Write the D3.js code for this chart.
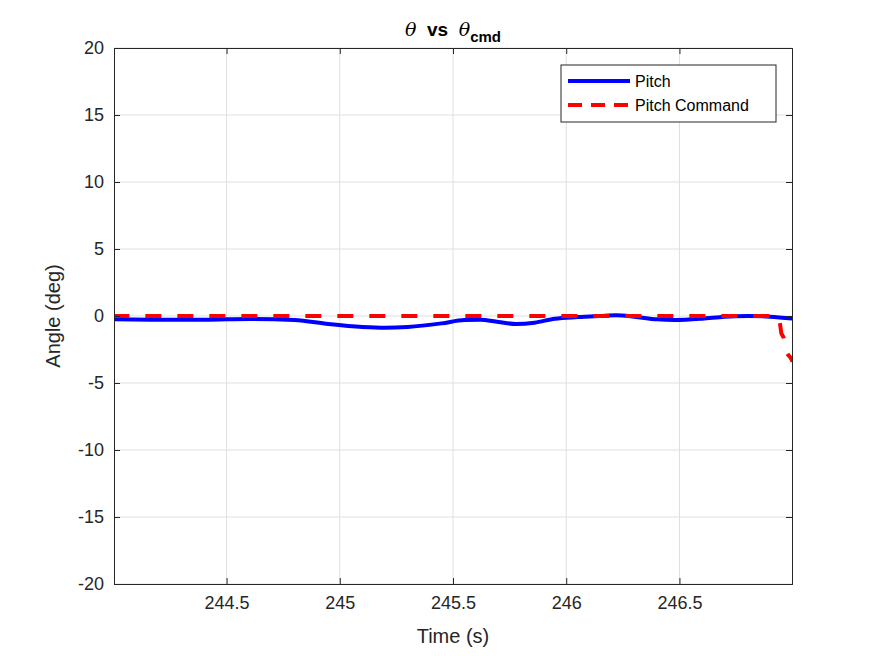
<!DOCTYPE html>
<html>
<head>
<meta charset="utf-8">
<script src="https://cdn.jsdelivr.net/npm/d3@7"></script>
<style>
body { margin: 0; background: #fff; }
text { font-family: Arial, "Liberation Sans", sans-serif; }
</style>
</head>
<body>
<svg id="chart" width="875" height="656"></svg>
<script>
// values
var pitchT = [244.0, 244.2, 244.4, 244.6, 244.8, 244.95, 245.1, 245.2, 245.3, 245.45, 245.55, 245.62, 245.7, 245.78, 245.86, 245.95, 246.05, 246.15, 246.22, 246.3, 246.4, 246.48, 246.6, 246.7, 246.8, 246.9, 247.0];
var pitchV = [-0.25, -0.28, -0.28, -0.22, -0.3, -0.6, -0.82, -0.88, -0.82, -0.55, -0.3, -0.28, -0.45, -0.6, -0.5, -0.2, -0.08, 0.0, 0.05, -0.05, -0.25, -0.3, -0.2, -0.05, 0.0, -0.05, -0.2];
var cmdT = [244.0, 246.93, 246.94, 246.95, 246.96, 246.97, 246.98, 246.99, 247.0];
var cmdV = [0, 0, -0.1, -1.3, -1.6, -2.6, -2.9, -3.1, -3.4];
var xTicks = [244.5, 245, 245.5, 246, 246.5];
var yTicks = [-20, -15, -10, -5, 0, 5, 10, 15, 20];

var svg = d3.select("#chart");
var L = 114, R = 792, T = 48, B = 584;
var x = d3.scaleLinear().domain([244.003, 246.997]).range([L, R]);
var y = d3.scaleLinear().domain([-20, 20]).range([B, T]);

svg.append("rect").attr("x", L).attr("y", T).attr("width", R - L).attr("height", B - T).attr("fill", "#fff");

// grid
svg.append("g").selectAll("line").data(xTicks).join("line")
  .attr("x1", d => x(d)).attr("x2", d => x(d)).attr("y1", T).attr("y2", B)
  .attr("stroke", "#dfdfdf");
svg.append("g").selectAll("line").data(yTicks).join("line")
  .attr("y1", d => y(d)).attr("y2", d => y(d)).attr("x1", L).attr("x2", R)
  .attr("stroke", "#dfdfdf");

svg.append("clipPath").attr("id", "clip").append("rect")
  .attr("x", L).attr("y", T).attr("width", R - L).attr("height", B - T);

var line = d3.line().curve(d3.curveMonotoneX);
svg.append("path").attr("clip-path", "url(#clip)")
  .attr("d", line(pitchT.map((t, i) => [x(t), y(pitchV[i])])))
  .attr("fill", "none").attr("stroke", "#0000ff").attr("stroke-width", 4);
svg.append("path").attr("clip-path", "url(#clip)")
  .attr("d", d3.line()(cmdT.map((t, i) => [x(t), y(cmdV[i])])))
  .attr("fill", "none").attr("stroke", "#ff0000").attr("stroke-width", 4)
  .attr("stroke-dasharray", "16,16");

// axes
svg.append("g").attr("transform", "translate(0," + B + ")")
  .call(d3.axisBottom(x).tickValues(xTicks).tickFormat(d => String(d)).tickSize(-6).tickPadding(12));
svg.append("g").attr("transform", "translate(" + L + ",0)")
  .call(d3.axisLeft(y).tickValues(yTicks).tickFormat(d => String(d)).tickSize(-6).tickPadding(10));
svg.append("g").attr("transform", "translate(0," + T + ")")
  .call(d3.axisTop(x).tickValues(xTicks).tickSize(-6).tickFormat(""));
svg.append("g").attr("transform", "translate(" + R + ",0)")
  .call(d3.axisRight(y).tickValues(yTicks).tickSize(-6).tickFormat(""));
svg.selectAll(".domain, .tick line").attr("stroke", "#262626");
svg.selectAll(".tick text").attr("font-size", 18).attr("fill", "#262626")
  .attr("font-family", "Arial, 'Liberation Sans', sans-serif");

svg.append("text").attr("x", (L + R) / 2).attr("y", 643).attr("text-anchor", "middle")
  .attr("font-size", 20).attr("fill", "#262626").text("Time (s)");
svg.append("text").attr("transform", "translate(60," + ((T + B) / 2) + ") rotate(-90)")
  .attr("text-anchor", "middle").attr("font-size", 20).attr("fill", "#262626").text("Angle (deg)");

// title
var tt = svg.append("text").attr("x", (L + R) / 2).attr("y", 36).attr("text-anchor", "middle")
  .attr("font-size", 19).attr("font-weight", "bold").attr("fill", "#000")
  .style("white-space", "pre");
tt.append("tspan").attr("font-family", "'DejaVu Serif', serif").attr("font-style", "italic").attr("font-weight", "normal").text("θ");
tt.append("tspan").text("\u00a0\u00a0vs\u00a0\u00a0");
tt.append("tspan").attr("font-family", "'DejaVu Serif', serif").attr("font-style", "italic").attr("font-weight", "normal").text("θ");
tt.append("tspan").attr("dy", 6).attr("font-size", 15).text("cmd");

// legend
var lg = svg.append("g").attr("transform", "translate(561,65)");
lg.append("rect").attr("width", 215).attr("height", 57).attr("fill", "#fff").attr("stroke", "#262626");
var items = [["Pitch", "#0000ff", null], ["Pitch Command", "#ff0000", "14,9"]];
items.forEach(function(it, i) {
  var yy = 16 + i * 24;
  lg.append("line").attr("x1", 7).attr("x2", 69).attr("y1", yy).attr("y2", yy)
    .attr("stroke", it[1]).attr("stroke-width", 4).attr("stroke-dasharray", it[2]);
  lg.append("text").attr("x", 74).attr("y", yy + 6).attr("font-size", 16).attr("fill", "#000").text(it[0]);
});
</script>
</body>
</html>
